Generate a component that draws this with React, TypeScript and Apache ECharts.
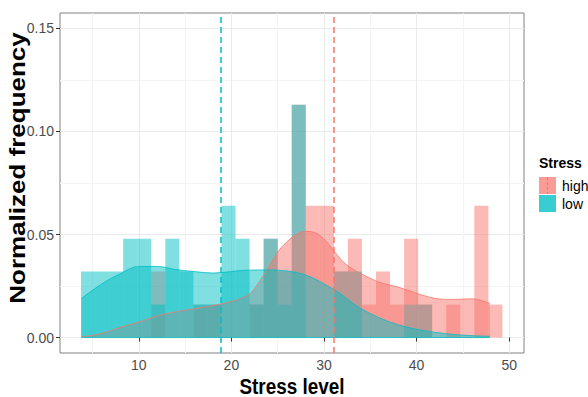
import React, { useEffect, useRef } from "react";
import * as echarts from "echarts";

// ---- data ----
const binStart = 3.76;
const binWidth = 1.517;
const lowFreq = [0.032, 0.032, 0.032, 0.048, 0.048, 0.016, 0.048, 0.032, 0.016, 0.016, 0.064, 0.048, 0.016, 0.048, 0.016, 0.113, 0, 0, 0.032, 0.032, 0, 0, 0, 0.016, 0.016, 0, 0, 0, 0, 0];
const highFreq = [0, 0, 0, 0, 0, 0.032, 0, 0, 0.016, 0.016, 0, 0, 0.016, 0.048, 0.032, 0.113, 0.064, 0.064, 0.032, 0.048, 0.016, 0.032, 0.016, 0.048, 0.016, 0, 0.016, 0, 0.064, 0.016];
const densX = [3.8, 6, 8, 10, 12, 14, 16, 18, 20, 21, 22, 23, 24, 25, 26, 27, 28, 29, 30, 31, 32, 33, 34, 36, 38, 40, 42, 44, 46, 47.9];
const lowDensity = [0.019, 0.026, 0.031, 0.0345, 0.0345, 0.033, 0.032, 0.0313, 0.032, 0.0325, 0.0327, 0.0328, 0.0328, 0.0327, 0.0323, 0.0316, 0.0303, 0.0285, 0.026, 0.0235, 0.0205, 0.017, 0.014, 0.0095, 0.0062, 0.004, 0.0025, 0.0015, 0.0009, 0.0006];
const highDensity = [0.0003, 0.002, 0.005, 0.0075, 0.0105, 0.0125, 0.014, 0.0155, 0.0175, 0.019, 0.0212, 0.027, 0.034, 0.0415, 0.0465, 0.05, 0.0515, 0.051, 0.0478, 0.0425, 0.037, 0.0335, 0.031, 0.0268, 0.0245, 0.0215, 0.019, 0.0185, 0.0188, 0.0166];
const lowMean = 18.8;
const highMean = 31.0;
const xTicks = [10, 20, 30, 40, 50];
const yTicks = [0, 0.05, 0.1, 0.15];
const groups = ["high", "low"];
const xTitle = "Stress level";
const yTitle = "Normalized frequency";
const legendTitle = "Stress";

const HIGH = "#F8766D";
const LOW = "#00BFC4";
const FONT = "Liberation Sans, Arial, sans-serif";

function histData(freq: number[]) {
  return freq.map((v, i) => [binStart + i * binWidth, binStart + (i + 1) * binWidth, v]);
}

function histSeries(name: string, freq: number[], fill: string) {
  return {
    type: "custom",
    name,
    data: histData(freq),
    encode: { x: [0, 1], y: 2 },
    renderItem: (_p: any, api: any) => {
      const x0 = api.value(0);
      const x1 = api.value(1);
      const v = api.value(2);
      if (!v) return { type: "group", children: [] };
      const a = api.coord([x0, v]);
      const b = api.coord([x1, 0]);
      return {
        type: "rect",
        shape: { x: a[0], y: a[1], width: b[0] - a[0], height: b[1] - a[1] },
        style: { fill },
      };
    },
  };
}

function densSeries(name: string, ys: number[], color: string, fill: string, extra: any = {}) {
  return {
    type: "line",
    name,
    data: densX.map((x, i) => [x, ys[i]]),
    smooth: 0.35,
    showSymbol: false,
    symbol: "none",
    lineStyle: { color, width: 0.8 },
    areaStyle: { color: fill, opacity: 1 },
    ...extra,
  };
}

export default function App() {
  const ref = useRef<HTMLDivElement>(null);
  useEffect(() => {
    if (!ref.current) return;
    const chart = echarts.init(ref.current, undefined, { renderer: "svg" });
    const last = densX.length - 1;
    const option: any = {
      animation: false,
      backgroundColor: "#ffffff",
      grid: {
        left: 60, top: 13, width: 464, height: 340,
        containLabel: false, outerBoundsMode: "none",
        show: true, borderColor: "#808080", borderWidth: 1, backgroundColor: "transparent",
      },
      xAxis: {
        type: "value",
        min: 1.49,
        max: 51.6,
        splitNumber: 5,
        axisLine: { show: false },
        axisTick: { show: true, length: 4, lineStyle: { color: "#333333" }, customValues: xTicks },
        axisLabel: { customValues: xTicks, color: "#4d4d4d", fontSize: 14, margin: 5, fontFamily: FONT },
        splitLine: { show: true, lineStyle: { color: "#ebebeb", width: 1 } },
        minorTick: { show: false, splitNumber: 2 },
        minorSplitLine: { show: true, lineStyle: { color: "#f4f4f4", width: 1 } },
      },
      yAxis: {
        type: "value",
        min: -0.0075,
        max: 0.1575,
        splitNumber: 3,
        axisLine: { show: false },
        axisTick: { show: true, length: 4, lineStyle: { color: "#333333" }, customValues: yTicks },
        axisLabel: { customValues: yTicks, color: "#4d4d4d", fontSize: 14, margin: 6, fontFamily: FONT, formatter: (v: number) => v.toFixed(2) },
        splitLine: { show: true, lineStyle: { color: "#ebebeb", width: 1 } },
        minorTick: { show: false, splitNumber: 2 },
        minorSplitLine: { show: true, lineStyle: { color: "#f4f4f4", width: 1 } },
      },
      series: [
        histSeries("high", highFreq, "rgba(248,118,109,0.5)"),
        histSeries("low", lowFreq, "rgba(0,191,196,0.5)"),
        densSeries("high density", highDensity, HIGH, "rgba(248,118,109,0.5)"),
        densSeries("low density", lowDensity, LOW, "rgba(0,191,196,0.5)", {
          markLine: {
            silent: true,
            symbol: ["none", "none"],
            label: { show: false },
            data: [
              [
                { coord: [densX[0], 0], lineStyle: { color: LOW, type: "solid", width: 0.8 } },
                { coord: [densX[last], 0] },
              ],
              { xAxis: lowMean, lineStyle: { color: LOW, type: [6, 4], width: 1.5 } },
              { xAxis: highMean, lineStyle: { color: HIGH, type: [6, 4], width: 1.5 } },
            ],
          },
        }),
      ],
      graphic: [
        {
          type: "text", x: 292, y: 386, scaleX: 0.86,
          style: { text: xTitle, font: `bold 22px ${FONT}`, fill: "#000", align: "center", verticalAlign: "middle" },
        },
        {
          type: "text", x: 17, y: 168, rotation: Math.PI / 2, scaleY: 0.86,
          style: { text: yTitle, font: `bold 26px ${FONT}`, fill: "#000", align: "center", verticalAlign: "middle" },
        },
        { type: "text", x: 539, y: 163, style: { text: legendTitle, font: `bold 14px ${FONT}`, fill: "#000", verticalAlign: "middle" } },
        { type: "rect", shape: { x: 539, y: 177, width: 17, height: 17 }, style: { fill: "rgba(248,118,109,0.72)" } },
        { type: "line", shape: { x1: 547.5, y1: 177, x2: 547.5, y2: 194 }, style: { stroke: HIGH, lineWidth: 1.2, lineDash: [3, 2] } },
        { type: "rect", shape: { x: 539, y: 195, width: 17, height: 17 }, style: { fill: "rgba(0,191,196,0.78)" } },
        { type: "text", x: 562, y: 186, style: { text: groups[0], font: `14px ${FONT}`, fill: "#000", verticalAlign: "middle" } },
        { type: "text", x: 562, y: 204, style: { text: groups[1], font: `14px ${FONT}`, fill: "#000", verticalAlign: "middle" } },
      ],
    };
    chart.setOption(option);
    return () => chart.dispose();
  }, []);
  return <div ref={ref} style={{ position: "absolute", left: 0, top: 0, width: 588, height: 397 }} />;
}
